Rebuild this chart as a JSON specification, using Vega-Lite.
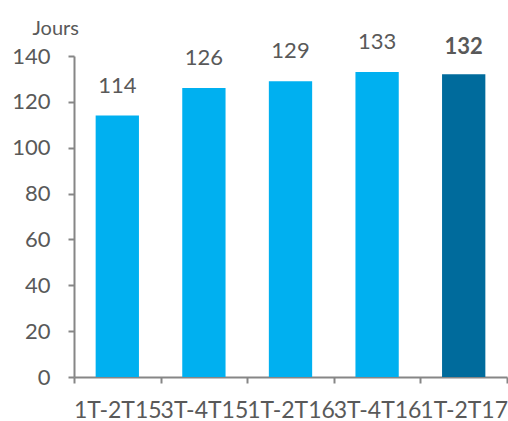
{
  "$schema": "https://vega.github.io/schema/vega-lite/v6.json",
  "width": 433,
  "height": 321,
  "autosize": {"type": "none"},
  "padding": {"left": 74, "top": 56, "right": 1, "bottom": 44},
  "background": "white",
  "config": {
    "view": {"stroke": null},
    "font": "Lato",
    "axis": {
      "grid": false,
      "domainColor": "#868686",
      "domainWidth": 2,
      "tickColor": "#868686",
      "tickWidth": 2,
      "tickSize": 6,
      "labelColor": "#595959",
      "labelFontSize": 22,
      "labelFont": "Lato",
      "titleFont": "Lato"
    }
  },
  "data": {
    "values": [
      {"periode": "1T-2T15", "jours": 114, "type": "hist"},
      {"periode": "3T-4T15", "jours": 126, "type": "hist"},
      {"periode": "1T-2T16", "jours": 129, "type": "hist"},
      {"periode": "3T-4T16", "jours": 133, "type": "hist"},
      {"periode": "1T-2T17", "jours": 132, "type": "last"}
    ]
  },
  "encoding": {
    "x": {
      "field": "periode",
      "type": "nominal",
      "sort": null,
      "scale": {"paddingInner": 0, "paddingOuter": 0},
      "axis": {
        "title": null,
        "labelAngle": 0,
        "labelOverlap": false,
        "labelPadding": 16,
        "labelFontSize": 23,
        "tickBand": "extent"
      }
    },
    "y": {
      "field": "jours",
      "type": "quantitative",
      "scale": {"domain": [0, 140], "nice": false},
      "axis": {
        "values": [0, 20, 40, 60, 80, 100, 120, 140],
        "labelPadding": 18,
        "title": "Jours",
        "titleAngle": 0,
        "titleAlign": "left",
        "titleBaseline": "middle",
        "titleX": -42,
        "titleY": -28,
        "titleFontSize": 20,
        "titleFontWeight": "normal",
        "titleColor": "#595959"
      }
    }
  },
  "layer": [
    {
      "mark": {"type": "bar", "width": {"band": 0.5}},
      "encoding": {
        "color": {
          "field": "type",
          "type": "nominal",
          "scale": {"domain": ["hist", "last"], "range": ["#00B0F0", "#006B9C"]},
          "legend": null
        }
      }
    },
    {
      "transform": [{"filter": "datum.type === 'hist'"}],
      "mark": {"type": "text", "baseline": "alphabetic", "dy": -23, "fontSize": 22, "color": "#595959"},
      "encoding": {"text": {"field": "jours", "type": "quantitative"}}
    },
    {
      "transform": [{"filter": "datum.type === 'last'"}],
      "mark": {"type": "text", "baseline": "alphabetic", "dy": -20, "fontSize": 22, "fontWeight": "bold", "color": "#595959"},
      "encoding": {"text": {"field": "jours", "type": "quantitative"}}
    }
  ]
}
